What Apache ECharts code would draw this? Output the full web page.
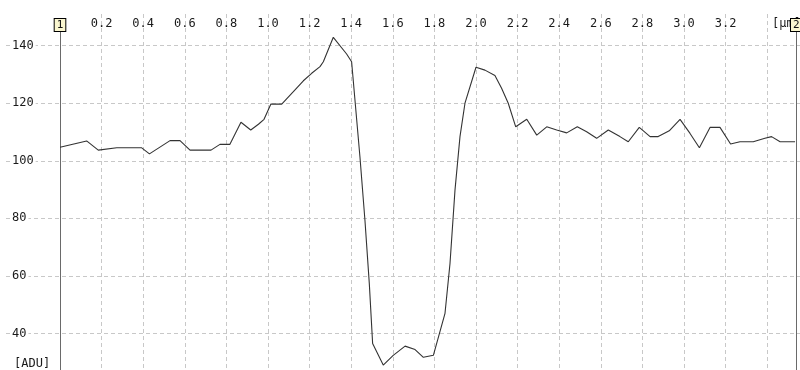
<!DOCTYPE html>
<html><head><meta charset="utf-8">
<script src="https://cdn.jsdelivr.net/npm/echarts@6/dist/echarts.min.js"></script>
<style>html,body{margin:0;padding:0;background:#fff;overflow:hidden;height:370px}#c{width:800px;height:391px}</style>
</head><body><div id="c"></div>
<script>
// Profile position [µm]
const xs = [0, 0.128, 0.184, 0.273, 0.393, 0.430, 0.529, 0.577, 0.625, 0.726, 0.769, 0.817, 0.870, 0.917, 0.954, 0.981, 1.014, 1.066, 1.122, 1.170, 1.210, 1.25, 1.266, 1.314, 1.378, 1.402, 1.442, 1.466, 1.487, 1.503, 1.554, 1.602, 1.659, 1.707, 1.747, 1.795, 1.851, 1.875, 1.899, 1.923, 1.947, 2.0, 2.043, 2.091, 2.123, 2.155, 2.191, 2.244, 2.292, 2.340, 2.388, 2.436, 2.487, 2.532, 2.580, 2.636, 2.692, 2.732, 2.785, 2.837, 2.876, 2.929, 2.981, 3.029, 3.074, 3.125, 3.173, 3.224, 3.269, 3.333, 3.389, 3.421, 3.462, 3.534];
// Intensity [ADU]
const ys = [104.7, 106.9, 103.7, 104.5, 104.5, 102.4, 107, 107, 103.7, 103.7, 105.7, 105.7, 113.4, 110.7, 112.7, 114.4, 119.7, 119.7, 124, 127.8, 130.4, 132.7, 134.4, 142.9, 137.1, 134.4, 101.4, 79.4, 57.4, 36.5, 29, 32.4, 35.6, 34.4, 31.7, 32.4, 47, 64.3, 89.8, 108.4, 120, 132.5, 131.5, 129.6, 125.2, 120, 111.8, 114.4, 108.9, 111.8, 110.7, 109.7, 111.8, 110.1, 107.8, 110.7, 108.4, 106.6, 111.6, 108.4, 108.4, 110.4, 114.4, 109.5, 104.5, 111.6, 111.6, 105.8, 106.6, 106.6, 107.8, 108.4, 106.6, 106.6];
const xTickLabels = ['0.2','0.4','0.6','0.8','1.0','1.2','1.4','1.6','1.8','2.0','2.2','2.4','2.6','2.8','3.0','3.2'];
const yTickLabels = ['40','60','80','100','120','140'];
const cursorX = [0, 3.54];
const cursorLabels = ['1', '2'];
const xUnit = '[µm]';
const yUnit = '[ADU]';

const FONT = 'DejaVu Sans Mono';
const FS = 12;
const Y_MIN = 20, Y_MAX = 151, CUR_TOP = 145.1;
const gridTop = 14, gridBottom = 0;
const dash = {color: '#c8c8c8', type: [4, 3], width: 1};

const chart = echarts.init(document.getElementById('c'), null, {renderer: 'canvas'});
chart.setOption({
  animation: false,
  backgroundColor: '#fff',
  title: [
    {text: yUnit, left: 14, top: 358, padding: 0, z: 1, textStyle: {fontFamily: FONT, fontSize: FS, fontWeight: 'normal', color: '#1a1a1a'}},
    {text: xUnit, left: 772, top: 18, padding: 0, z: 1, textStyle: {fontFamily: FONT, fontSize: FS, fontWeight: 'normal', color: '#1a1a1a'}}
  ],
  grid: [
    {left: 6, right: 0, top: gridTop, bottom: gridBottom},
    {left: 60, right: 0, top: gridTop, bottom: gridBottom}
  ],
  xAxis: [
    {gridIndex: 0, type: 'value', min: 0, max: 1, show: false},
    {gridIndex: 1, type: 'value', position: 'top', min: 0, max: 740 / 208, interval: 0.2,
     axisLine: {show: false}, axisTick: {show: false},
     splitLine: {show: true, showMinLine: false, showMaxLine: false, lineStyle: dash},
     axisLabel: {inside: true, margin: 4, fontFamily: FONT, fontSize: FS, color: '#1a1a1a',
       showMinLabel: false, showMaxLabel: false,
       formatter: v => { const s = v.toFixed(1); return xTickLabels.includes(s) ? s : ''; }}}
  ],
  yAxis: [
    {gridIndex: 0, type: 'value', min: Y_MIN, max: Y_MAX, interval: 20,
     axisLine: {show: false}, axisTick: {show: false},
     splitLine: {show: true, showMaxLine: false, lineStyle: dash},
     axisLabel: {inside: true, margin: 4, fontFamily: FONT, fontSize: FS, color: '#1a1a1a',
       backgroundColor: '#fff', padding: [0, 2], showMaxLabel: false,
       formatter: v => { const s = String(Math.round(v)); return yTickLabels.includes(s) ? s : ''; }}},
    {gridIndex: 1, type: 'value', min: Y_MIN, max: Y_MAX, interval: 20, show: false, splitLine: {show: false}}
  ],
  series: [{
    type: 'line', xAxisIndex: 1, yAxisIndex: 1, z: 10,
    data: xs.map((x, i) => [x, ys[i]]),
    symbol: 'none', smooth: false,
    lineStyle: {color: '#333', width: 1.1},
    markLine: {
      silent: true, symbol: 'none', animation: false,
      lineStyle: {color: '#6a6a6a', type: 'solid', width: 1},
      label: {show: true, position: 'end', distance: 0, fontFamily: FONT, fontSize: 11, color: '#111',
        backgroundColor: '#faf6cf', borderColor: '#000', borderWidth: 1, padding: [1, 2, 0, 2]},
      data: cursorX.map((cx, i) => [
        {coord: [cx, Y_MIN], label: {formatter: cursorLabels[i]}},
        {coord: [cx, CUR_TOP]}
      ])
    }
  }]
});
</script></body></html>
